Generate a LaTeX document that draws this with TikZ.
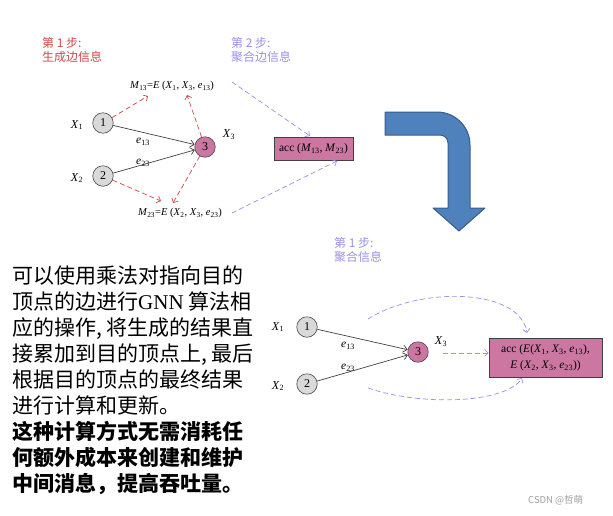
\documentclass[tikz,border=0pt]{standalone}
\usepackage{fontspec}
\setmainfont{Liberation Serif}
\newfontfamily\cjk{Noto Sans CJK SC}
\usetikzlibrary{arrows.meta}
\definecolor{redc}{HTML}{D04848}
\definecolor{lav}{HTML}{9A90E6}
\definecolor{pinkf}{HTML}{CC77A1}
\definecolor{grayf}{HTML}{D9D9D9}
\definecolor{blueA}{HTML}{4F81BD}
\definecolor{blueB}{HTML}{385D8A}
\definecolor{wmark}{HTML}{A0A0A0}
\newcommand\vsub[2]{\textit{#1}\textsubscript{#2}}
\begin{document}
\begin{tikzpicture}[x=1pt,y=-1pt,
  vert/.style={circle,draw=black!70,fill=grayf,minimum size=20.5pt,inner sep=0pt,line width=0.6pt,font=\fontsize{12}{14}\selectfont},
  vtxthree/.style={vert,fill=pinkf},
  accbox/.style={draw=black!75,fill=pinkf,line width=0.8pt,inner sep=0pt,align=center},
  lbl/.style={inner sep=0pt,font=\fontsize{12}{14}\selectfont},
  elbl/.style={inner sep=0pt,font=\fontsize{11.5}{13}\selectfont},
  msg/.style={inner sep=0pt,font=\fontsize{10.5}{12}\selectfont},
  steplbl/.style={inner sep=0pt,anchor=north west,align=left,font=\cjk\fontsize{12}{14.5}\selectfont},
  plainedge/.style={draw=black!75,line width=0.7pt,-{Straight Barb[length=4pt,width=7pt]}},
  reddash/.style={draw=redc,line width=0.7pt,dash pattern=on 5pt off 3pt,-{Straight Barb[length=3.5pt,width=7pt]}},
  lavdash/.style={draw=lav,line width=0.7pt,dash pattern=on 5pt off 3pt,-{Straight Barb[length=3.5pt,width=7pt]}},
  bodytext/.style={inner sep=0pt,anchor=base west,font=\cjk\fontsize{21}{26}\selectfont},
  boldtext/.style={bodytext,font=\cjk\bfseries\fontsize{21}{26}\selectfont}
]
\useasboundingbox (0,0) rectangle (613,515);

% ---------- top diagram ----------
\node[steplbl,text=redc] (s1) at (42,37) {第 1 步:\\生成边信息};
\node[steplbl,text=lav] (s2) at (231,37) {第 2 步:\\聚合边信息};

\node[vert] (n1) at (103,123) {1};
\node[vert] (n2) at (103,176) {2};
\node[vtxthree] (n3) at (205,147) {3};
\node[lbl] (x1) at (77,125) {\vsub{X}{1}};
\node[lbl] (x2) at (77,178) {\vsub{X}{2}};
\node[lbl] (x3) at (229,135) {\vsub{X}{3}};
\node[elbl] (e13) at (143,142) {\vsub{e}{13}};
\node[elbl] (e23) at (143,163) {\vsub{e}{23}};
\draw[plainedge] (n1) -- (n3);
\draw[plainedge] (n2) -- (n3);

\node[msg] (m13) at (172,86) {\vsub{M}{13}=\textit{E} (\vsub{X}{1}, \vsub{X}{3}, \vsub{e}{13})};
\node[msg] (m23) at (180,213) {\vsub{M}{23}=\textit{E} (\vsub{X}{2}, \vsub{X}{3}, \vsub{e}{23})};

\coordinate (r1) at (148,96);
\coordinate (r2) at (187,95);
\coordinate (r3) at (161,201);
\coordinate (r4) at (173,203);
\draw[reddash] (n1) -- (r1);
\draw[reddash] (n3) -- (r2);
\draw[reddash] (n2) -- (r3);
\draw[reddash] (n3) -- (r4);

\node[accbox,minimum width=79pt,minimum height=23pt,font=\fontsize{11.5}{13}\selectfont] (acc) at (313.5,148.5) {acc (\vsub{M}{13}, \vsub{M}{23})};
\coordinate (l1s) at (232,82);
\coordinate (l1e) at (310,136);
\coordinate (l2s) at (232,213);
\coordinate (l2e) at (337,161);
\draw[lavdash] (l1s) -- (l1e);
\draw[lavdash] (l2s) -- (l2e);

% ---------- blue bent arrow ----------
\draw[fill=blueA,draw=blueB,line width=1pt,line join=round]
  (385,112) -- (437,112) arc[start angle=-90,end angle=0,radius=33]
  -- (470,208) -- (485,208) -- (459,231) -- (433,208) -- (448,208)
  -- (448,143) arc[start angle=0,end angle=-90,radius=8]
  -- (385,135) -- cycle;

% ---------- bottom diagram ----------
\node[steplbl,text=lav] (s3) at (334,237) {第 1 步:\\聚合信息};

\node[vert] (p1) at (307,327) {1};
\node[vert] (p2) at (307,384) {2};
\node[vtxthree] (p3) at (418,352) {3};
\node[lbl] (y1) at (278,327) {\vsub{X}{1}};
\node[lbl] (y2) at (278,386) {\vsub{X}{2}};
\node[lbl] (y3) at (441,342) {\vsub{X}{3}};
\node[elbl] (f13) at (348,346) {\vsub{e}{13}};
\node[elbl] (f23) at (348,368) {\vsub{e}{23}};
\draw[plainedge] (p1) -- (p3);
\draw[plainedge] (p2) -- (p3);

\node[accbox,minimum width=113pt,minimum height=39pt,font=\fontsize{11.5}{16}\selectfont] (acc2) at (545.5,357.5)
  {acc (\textit{E}(\vsub{X}{1}, \vsub{X}{3}, \vsub{e}{13}),\\ \textit{E} (\vsub{X}{2}, \vsub{X}{3}, \vsub{e}{23}))};

\coordinate (c1s) at (368,319);
\coordinate (c1e) at (527,333);
\coordinate (c2s) at (368,388);
\coordinate (c2e) at (522,378);
\coordinate (c3s) at (443,353);
\draw[lavdash] (c1s) .. controls (420,286) and (520,288) .. (c1e);
\draw[lavdash] (c2s) .. controls (420,406) and (505,404) .. (c2e);
\draw[lavdash] (c3s) -- (acc2.west |- c3s);

% ---------- text block ----------
\node[bodytext] (t1) at (12,283) {可以使用乘法对指向目的};
\node[bodytext] (t2) at (12,309) {顶点的边进行{\rmfamily GNN }算法相};
\node[bodytext] (t3) at (12,335) {应的操作, 将生成的结果直};
\node[bodytext] (t4) at (12,361) {接累加到目的顶点上, 最后};
\node[bodytext] (t5) at (12,387) {根据目的顶点的最终结果};
\node[bodytext] (t6) at (12,413) {进行计算和更新。};
\node[boldtext] (t7) at (12,439) {这种计算方式无需消耗任};
\node[boldtext] (t8) at (12,465) {何额外成本来创建和维护};
\node[boldtext] (t9) at (12,491) {中间消息，提高吞吐量。};

% watermark
\node[inner sep=0pt,anchor=west,text=wmark,font=\cjk\fontsize{9.5}{11}\selectfont] (wm) at (528,500) {CSDN @哲萌};
\end{tikzpicture}
\end{document}
